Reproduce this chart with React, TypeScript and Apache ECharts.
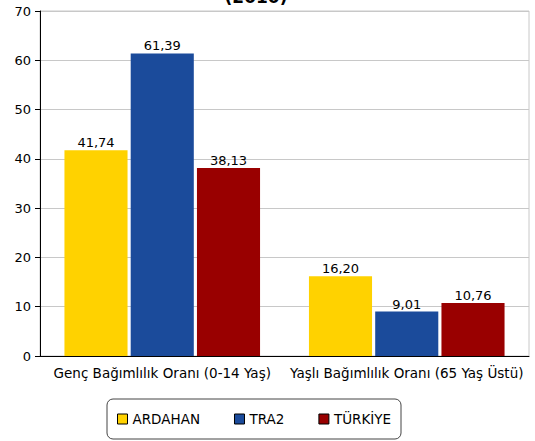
import React, { useEffect, useRef } from "react";
import * as echarts from "echarts";

const categories = ["Genç Bağımlılık Oranı (0-14 Yaş)", "Yaşlı Bağımlılık Oranı (65 Yaş Üstü)"];
const seriesNames = ["ARDAHAN", "TRA2", "TÜRKİYE"];
const ardahan = [41.74, 16.2];
const tra2 = [61.39, 9.01];
const turkiye = [38.13, 10.76];
const colors = ["#FFD200", "#1B4B9B", "#990000"];
const yTicks = { min: 0, max: 70, interval: 10 };
const titleText = "(2010)";

const FONT = "DejaVu Sans";

export default function App() {
  const ref = useRef<HTMLDivElement>(null);
  useEffect(() => {
    if (!ref.current) return;
    const chart = echarts.init(ref.current, null, { renderer: "svg" });
    const values = [ardahan, tra2, turkiye];
    chart.setOption({
      animation: false,
      backgroundColor: "#ffffff",
      textStyle: { fontFamily: FONT },
      graphic: [
        {
          type: "text",
          x: 256,
          y: -12,
          style: { text: titleText, font: `bold 17px ${FONT}`, fill: "#000", textAlign: "center" },
        },
      ],
      grid: {
        left: 40,
        right: 6,
        top: 11,
        bottom: 85,
        show: true,
        borderColor: "#c8c8c8",
        borderWidth: 1,
      },
      legend: {
        top: 399,
        left: 107,
        data: seriesNames,
        icon: "rect",
        itemWidth: 10,
        itemHeight: 10,
        itemGap: 34,
        borderColor: "#444",
        borderWidth: 1,
        borderRadius: 6,
        padding: [13, 10, 13, 10],
        itemStyle: { borderColor: "#000", borderWidth: 1 },
        textStyle: { fontFamily: FONT, fontSize: 13.5, color: "#000" },
      },
      xAxis: {
        type: "category",
        data: categories,
        axisLine: { lineStyle: { color: "#000" } },
        axisTick: { alignWithLabel: true, length: 5, lineStyle: { color: "#000" } },
        axisLabel: { color: "#000", fontSize: 13.5, fontFamily: FONT, margin: 10, interval: 0, hideOverlap: false },
      },
      yAxis: {
        type: "value",
        min: yTicks.min,
        max: yTicks.max,
        interval: yTicks.interval,
        axisLine: { show: true, lineStyle: { color: "#000" } },
        axisTick: { show: true, length: 5, lineStyle: { color: "#000" } },
        axisLabel: { color: "#000", fontSize: 13, fontFamily: FONT, margin: 9 },
        splitLine: { lineStyle: { color: "#c8c8c8" } },
      },
      series: seriesNames.map((name, i) => ({
        name,
        type: "bar",
        data: values[i],
        barGap: "5%",
        barCategoryGap: "20%",
        itemStyle: { color: colors[i] },
        label: {
          show: true,
          position: "top",
          distance: 1,
          color: "#000",
          fontSize: 13,
          fontFamily: FONT,
          formatter: (p: any) => Number(p.value).toFixed(2).replace(".", ","),
        },
      })),
    });
    return () => chart.dispose();
  }, []);
  return (
    <div
      ref={ref}
      style={{ position: "fixed", left: 0, top: 0, width: 535, height: 441 }}
    />
  );
}
